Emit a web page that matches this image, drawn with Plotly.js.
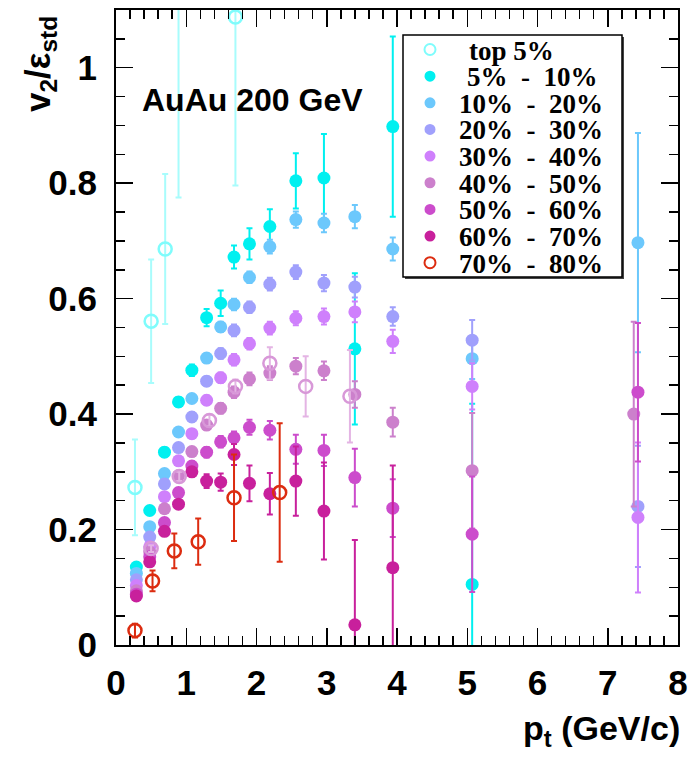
<!DOCTYPE html>
<html><head><meta charset="utf-8">
<script src="https://cdn.plot.ly/plotly-3.0.1.min.js"></script>
<style>html,body{margin:0;padding:0;background:#fff}</style>
</head><body><div id="chart" style="width:688px;height:762px"></div>
<script>
// ---- data ----
const binsPt = [0.29, 0.48, 0.69, 0.89, 1.08, 1.29, 1.49, 1.68, 1.90, 2.19, 2.56, 2.96, 3.40, 3.94, 5.07, 7.43];

const top5Pt  = [0.27, 0.50, 0.70, 0.89, 1.70];
const top5V2  = [0.273, 0.561, 0.686, 1.25, 1.088];
const top5Err = [0.083, 0.107, 0.130, 0.475, 0.292];

const c5_10V2  = [0.135, 0.233, 0.334, 0.421, 0.476, 0.567, 0.592, 0.672, 0.695, 0.725, 0.804, 0.809, 0.513, 0.898, 0.105];
const c5_10Err = [0.005, 0.006, 0.008, 0.008, 0.010, 0.015, 0.022, 0.020, 0.027, 0.030, 0.048, 0.076, 0.131, 0.156, 0.313];

const c10_20V2  = [0.124, 0.205, 0.297, 0.369, 0.427, 0.497, 0.551, 0.590, 0.637, 0.690, 0.737, 0.731, 0.742, 0.686, 0.496, 0.697];
const c10_20Err = [0.004, 0.005, 0.006, 0.007, 0.008, 0.008, 0.009, 0.010, 0.010, 0.012, 0.014, 0.016, 0.020, 0.020, 0.035, 0.190];

const c20_30V2  = [0.113, 0.187, 0.279, 0.342, 0.395, 0.457, 0.505, 0.545, 0.585, 0.625, 0.646, 0.627, 0.620, 0.569, 0.528, 0.240];
const c20_30Err = [0.004, 0.005, 0.006, 0.007, 0.008, 0.008, 0.009, 0.010, 0.010, 0.011, 0.012, 0.014, 0.018, 0.016, 0.035, 0.105];

const c30_40V2  = [0.103, 0.170, 0.257, 0.319, 0.366, 0.424, 0.463, 0.494, 0.522, 0.549, 0.566, 0.569, 0.577, 0.526, 0.448, 0.221];
const c30_40Err = [0.004, 0.005, 0.006, 0.007, 0.008, 0.008, 0.009, 0.010, 0.010, 0.011, 0.012, 0.014, 0.018, 0.020, 0.040, 0.130];

const c40_50Pt  = [0.29, 0.48, 0.69, 0.89, 1.08, 1.29, 1.49, 1.68, 1.90, 2.19, 2.56, 2.96, 3.40, 3.94, 5.07, 7.37];
const c40_50V2  = [0.094, 0.161, 0.236, 0.293, 0.335, 0.381, 0.410, 0.438, 0.461, 0.471, 0.483, 0.475, 0.434, 0.386, 0.302, 0.400];
const c40_50Err = [0.004, 0.005, 0.006, 0.007, 0.008, 0.008, 0.009, 0.010, 0.011, 0.012, 0.014, 0.016, 0.023, 0.025, 0.100, 0.160];

const c50_60V2  = [0.088, 0.153, 0.212, 0.264, 0.310, 0.334, 0.352, 0.359, 0.377, 0.372, 0.339, 0.337, 0.290, 0.237, 0.192, 0.438];
const c50_60Err = [0.004, 0.005, 0.006, 0.007, 0.008, 0.009, 0.010, 0.011, 0.013, 0.016, 0.025, 0.027, 0.050, 0.050, 0.100, 0.120];

const c60_70V2  = [0.085, 0.144, 0.197, 0.244, 0.300, 0.284, 0.282, 0.330, 0.280, 0.262, 0.284, 0.232, 0.035, 0.134];
const c60_70Err = [0.004, 0.005, 0.006, 0.007, 0.008, 0.012, 0.015, 0.018, 0.031, 0.036, 0.060, 0.084, 0.147, 0.177];

const c70_80Pt  = [0.27, 0.52, 0.83, 1.17, 1.68, 2.33];
const c70_80V2  = [0.025, 0.111, 0.163, 0.179, 0.255, 0.264];
const c70_80Err = [0.012, 0.018, 0.030, 0.040, 0.075, 0.120];

const extraPt  = [0.50, 0.90, 1.33, 1.70, 2.19, 2.70, 3.33];
const extraV2  = [0.167, 0.292, 0.389, 0.448, 0.488, 0.448, 0.431];
const extraErr = [0.006, 0.008, 0.010, 0.012, 0.028, 0.052, 0.080];

const legendLabels = ['top 5%', '5%  -  10%', '10%  -  20%', '20%  -  30%', '30%  -  40%', '40%  -  50%', '50%  -  60%', '60%  -  70%', '70%  -  80%'];
const legendColors = ['#7ffcfc', '#00f0f0', '#6cc8fc', '#a0a0fc', '#cf80fc', '#cc80cc', '#cc4ccc', '#c8209c', '#dc2c10'];
const legendOpen   = [true, false, false, false, false, false, false, false, true];
const xTickVals = [0,1,2,3,4,5,6,7,8];
const yTickVals = [0,0.2,0.4,0.6,0.8,1];
const yTickText = ['0','0.2','0.4','0.6','0.8','1'];

// ---- traces ----
function filled(x, y, err, color) {
  return {x: x, y: y, type: 'scatter', mode: 'markers', showlegend: false,
    marker: {symbol: 'circle', size: 13, color: color},
    error_y: {type: 'data', array: err, visible: true, color: color, thickness: 2, width: 3}};
}
function open(x, y, err, color, ecolor) {
  return {x: x, y: y, type: 'scatter', mode: 'markers', showlegend: false,
    marker: {symbol: 'circle-open', size: 13, color: color, line: {width: 2.5, color: color}},
    error_y: {type: 'data', array: err, visible: true, color: ecolor || color, thickness: 2, width: 3}};
}
const sl = n => binsPt.slice(0, n);
const traces = [
  open(top5Pt, top5V2, top5Err, legendColors[0], '#a8fcfc'),
  filled(sl(c5_10V2.length), c5_10V2, c5_10Err, legendColors[1]),
  filled(sl(c10_20V2.length), c10_20V2, c10_20Err, legendColors[2]),
  filled(sl(c20_30V2.length), c20_30V2, c20_30Err, legendColors[3]),
  filled(sl(c30_40V2.length), c30_40V2, c30_40Err, legendColors[4]),
  filled(c40_50Pt, c40_50V2, c40_50Err, legendColors[5]),
  filled(sl(c50_60V2.length), c50_60V2, c50_60Err, legendColors[6]),
  filled(sl(c60_70V2.length), c60_70V2, c60_70Err, legendColors[7]),
  open(extraPt, extraV2, extraErr, '#d898d8', '#e4b4e4'),
  open(c70_80Pt, c70_80V2, c70_80Err, legendColors[8])
];

// ---- layout helpers (pixel -> paper) ----
const W = 688, H = 762, L = 116, R = 10, T = 10, B = 117;
const PW = W - L - R, PH = H - T - B;
const px = x => (x - L) / PW;
const py = y => (H - B - y) / PH;

const shapes = [];
const annotations = [];
// legend box with shadow
shapes.push({type: 'rect', xref: 'paper', yref: 'paper', x0: px(405), x1: px(624), y0: py(279), y1: py(37), line: {width: 0}, fillcolor: '#444'});
shapes.push({type: 'rect', xref: 'paper', yref: 'paper', x0: px(403), x1: px(622), y0: py(277), y1: py(35), line: {width: 1.5, color: '#000'}, fillcolor: '#fff'});
legendLabels.forEach((lab, i) => {
  const yc = 49.5 + i * 26.65;
  const r = 5.5;
  shapes.push({type: 'circle', xref: 'paper', yref: 'paper',
    x0: px(430 - r), x1: px(430 + r), y0: py(yc + r), y1: py(yc - r),
    fillcolor: legendOpen[i] ? 'rgba(0,0,0,0)' : legendColors[i],
    line: {width: legendOpen[i] ? 2 : 0, color: legendColors[i]}});
  const xl = i === 0 ? 467 : (i === 1 ? 465 : 457);
  annotations.push({xref: 'paper', yref: 'paper', x: px(xl), y: py(yc + 1), xanchor: 'left', yanchor: 'middle',
    text: '<b>' + lab + '</b>', showarrow: false,
    font: {family: 'Liberation Serif', size: 27, color: '#000'}});
});
annotations.push({xref: 'paper', yref: 'paper', x: px(140), y: py(100), xanchor: 'left', yanchor: 'middle',
  text: 'AuAu 200 GeV', showarrow: false, font: {family: 'Liberation Sans', size: 32, color: '#000', weight: 'bold'}});
annotations.push({xref: 'paper', yref: 'paper', x: px(40), y: py(64), xanchor: 'center', yanchor: 'middle', textangle: -90,
  text: '<b>v<sub>2</sub>/ε<sub>std</sub></b>', showarrow: false, font: {family: 'Liberation Sans', size: 35, color: '#000'}});
annotations.push({xref: 'paper', yref: 'paper', x: px(682), y: py(730), xanchor: 'right', yanchor: 'middle',
  text: '<b>p<sub>t</sub> (GeV/c)</b>', showarrow: false, font: {family: 'Liberation Sans', size: 34, color: '#000'}});

const axisCommon = {
  showgrid: false, zeroline: false, showline: true, linecolor: '#000', linewidth: 2, mirror: 'allticks',
  ticks: 'inside', ticklen: 17, tickwidth: 1.5, tickcolor: '#000', ticklabeloverflow: 'allow',
  tickfont: {family: 'Liberation Sans', size: 35, color: '#000', weight: 'bold'}
};
const layout = {
  width: W, height: H, margin: {l: L, r: R, t: T, b: B},
  paper_bgcolor: '#fff', plot_bgcolor: '#fff', showlegend: false,
  xaxis: Object.assign({}, axisCommon, {range: [0, 8], tickmode: 'array', tickvals: xTickVals, ticklabelstandoff: 6,
    minor: {dtick: 0.2, ticks: 'inside', ticklen: 9, tickwidth: 1.5, tickcolor: '#000', showgrid: false}}),
  yaxis: Object.assign({}, axisCommon, {range: [0, 1.1], tickmode: 'array', tickvals: yTickVals, ticktext: yTickText, ticklabelstandoff: 10,
    minor: {tick0: 0, dtick: 0.05, ticks: 'inside', ticklen: 9, tickwidth: 1.5, tickcolor: '#000', showgrid: false}}),
  shapes: shapes, annotations: annotations
};
Plotly.newPlot('chart', traces, layout, {staticPlot: true, displayModeBar: false});
</script></body></html>
